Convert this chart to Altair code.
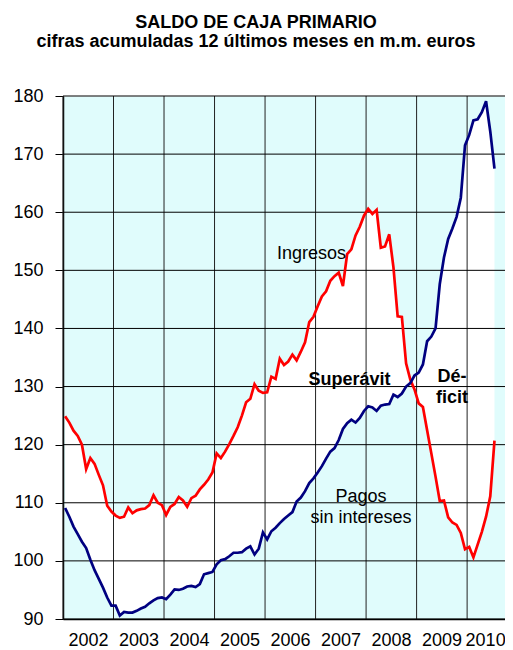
import altair as alt
import pandas as pd

# Monthly data, Jan 2002 - Jul 2010 (m.m. euros, 12-month cumulated)
ingresos = [124.9, 123.8, 122.4, 121.5, 120.0, 115.8, 117.7, 116.7, 114.8, 113.0, 109.5, 108.5,
            107.8, 107.4, 107.6, 109.2, 108.2, 108.7, 108.9, 109.0, 109.6, 111.3, 110.0, 109.6,
            107.9, 109.3, 109.8, 111.0, 110.4, 109.3, 110.8, 111.2, 112.3, 113.1, 114.0, 115.2,
            118.5, 117.7, 118.8, 120.1, 121.5, 123.0, 125.0, 127.3, 127.9, 130.4, 129.3, 128.9,
            129.0, 131.7, 131.3, 134.8, 133.7, 134.3, 135.5, 134.5, 136.0, 137.6, 141.1, 142.0,
            143.8, 145.5, 146.4, 148.2, 149.0, 149.6, 147.3, 152.8, 153.6, 156.0, 157.5, 159.4,
            160.6, 159.7, 160.4, 153.9, 154.1, 156.2, 150.5, 142.1, 142.0, 134.0, 131.2, 129.5,
            127.1, 126.5, 122.5, 118.5, 114.5, 110.3, 110.4, 107.5, 106.6, 106.2, 104.8, 102.0,
            102.4, 100.6, 102.8, 105.0, 107.6, 111.1, 120.7]
pagos = [109.1, 107.6, 105.9, 104.6, 103.3, 102.2, 100.2, 98.4, 96.9, 95.4, 93.7, 92.3,
         92.3, 90.6, 91.2, 91.1, 91.1, 91.4, 91.8, 92.1, 92.7, 93.2, 93.6, 93.7,
         93.4, 94.2, 95.1, 95.0, 95.2, 95.6, 95.7, 95.5, 96.0, 97.7, 97.9, 98.1,
         99.4, 100.1, 100.3, 100.8, 101.4, 101.4, 101.5, 102.1, 102.5, 101.1, 102.1, 104.9,
         103.7, 105.1, 105.7, 106.5, 107.2, 107.8, 108.4, 110.2, 110.9, 112.0, 113.4, 114.2,
         115.2, 116.3, 117.6, 118.8, 119.4, 120.8, 122.7, 123.7, 124.3, 123.8, 124.6, 125.8,
         126.6, 126.4, 125.8, 126.7, 126.9, 127.0, 128.6, 128.2, 128.8, 130.0, 130.6, 131.9,
         132.4, 133.8, 137.8, 138.6, 140.0, 147.6, 152.2, 155.4, 157.2, 159.2, 162.5, 171.5,
         173.3, 175.8, 176.0, 177.2, 179.1, 173.9, 167.5]

years = list(range(2002, 2011))
y_ticks = list(range(90, 181, 10))

labels_normal = ["Ingresos", "Pagos", "sin intereses"]
labels_normal_t = [2006.92, 2007.90, 2007.90]
labels_normal_v = [152.8, 111.0, 107.4]
labels_bold = ["Superávit", "Dé-", "ficit"]
labels_bold_t = [2007.67, 2009.70, 2009.70]
labels_bold_v = [131.2, 131.7, 128.1]

t = [2002 + (i + 0.5) / 12 for i in range(len(ingresos))]
df = pd.DataFrame({"t": t, "ingresos": ingresos, "pagos": pagos})
df_years = pd.DataFrame({"t": years})
df_y = pd.DataFrame({"v": y_ticks})
df_tn = pd.DataFrame({"label": labels_normal, "t": labels_normal_t, "v": labels_normal_v})
df_tb = pd.DataFrame({"label": labels_bold, "t": labels_bold_t, "v": labels_bold_v})

FONT = "Liberation Sans"
xscale = alt.Scale(domain=[2002, 2010.75], nice=False, zero=False)
yscale = alt.Scale(domain=[90, 180], nice=False, zero=False)
xaxis = alt.Axis(values=years, format="d", title=None, grid=False, ticks=False,
                 labelOffset={"condition": {"test": "datum.value >= 2010", "value": 18},
                              "value": 25},
                 labelFlush=False, labelOverlap=False,
                 labelFont=FONT, labelFontSize=18, labelColor="black",
                 labelPadding=12, domainColor="black", domainWidth=1.5)
yaxis = alt.Axis(values=y_ticks, title=None, grid=False, tickSize=8,
                 tickColor="black", tickWidth=1, labelFont=FONT, labelFontSize=18,
                 labelColor="black", labelPadding=12, domainColor="black",
                 domainWidth=1.5, labelOverlap=False)

area = alt.Chart(df).mark_area(color="white", opacity=1).encode(
    x=alt.X("t:Q", scale=xscale, axis=xaxis),
    y=alt.Y("ingresos:Q", scale=yscale, axis=yaxis),
    y2="pagos:Q",
)

vrules = alt.Chart(df_years).mark_rule(color="#222222", strokeWidth=1).encode(
    x=alt.X("t:Q", scale=xscale, axis=xaxis))
hrules = alt.Chart(df_y).mark_rule(color="black", strokeWidth=1).encode(
    y=alt.Y("v:Q", scale=yscale, axis=yaxis))

red = alt.Chart(df).mark_line(color="#FF0000", strokeWidth=2.7).encode(
    x=alt.X("t:Q", scale=xscale, axis=xaxis),
    y=alt.Y("ingresos:Q", scale=yscale, axis=yaxis))
blue = alt.Chart(df).mark_line(color="#000080", strokeWidth=2.7).encode(
    x=alt.X("t:Q", scale=xscale, axis=xaxis),
    y=alt.Y("pagos:Q", scale=yscale, axis=yaxis))

txt_n = alt.Chart(df_tn).mark_text(font=FONT, fontSize=18, color="black").encode(
    x=alt.X("t:Q", scale=xscale, axis=xaxis),
    y=alt.Y("v:Q", scale=yscale, axis=yaxis),
    text="label:N")
txt_b = alt.Chart(df_tb).mark_text(font=FONT, fontSize=18, fontWeight="bold", color="black").encode(
    x=alt.X("t:Q", scale=xscale, axis=xaxis),
    y=alt.Y("v:Q", scale=yscale, axis=yaxis),
    text="label:N")

chart = alt.layer(area, vrules, hrules, red, blue, txt_n, txt_b).properties(
    width=442,
    height=523,
    autosize=alt.AutoSizeParams(type="none"),
    padding={"left": 55, "top": 88, "right": 0, "bottom": 31},
    title=alt.TitleParams(
        text="SALDO DE CAJA PRIMARIO",
        subtitle="cifras acumuladas 12 últimos meses en m.m. euros",
        font=FONT, fontSize=18, fontWeight="bold", color="black",
        subtitleFont=FONT, subtitleFontSize=18, subtitleFontWeight="bold",
        subtitleColor="black", subtitlePadding=1,
        anchor="middle", dx=-28, offset=36,
    ),
).configure_view(fill="#E0FCFC", stroke="transparent")

chart.save("out.html", embed_options={"renderer": "svg", "actions": False})
